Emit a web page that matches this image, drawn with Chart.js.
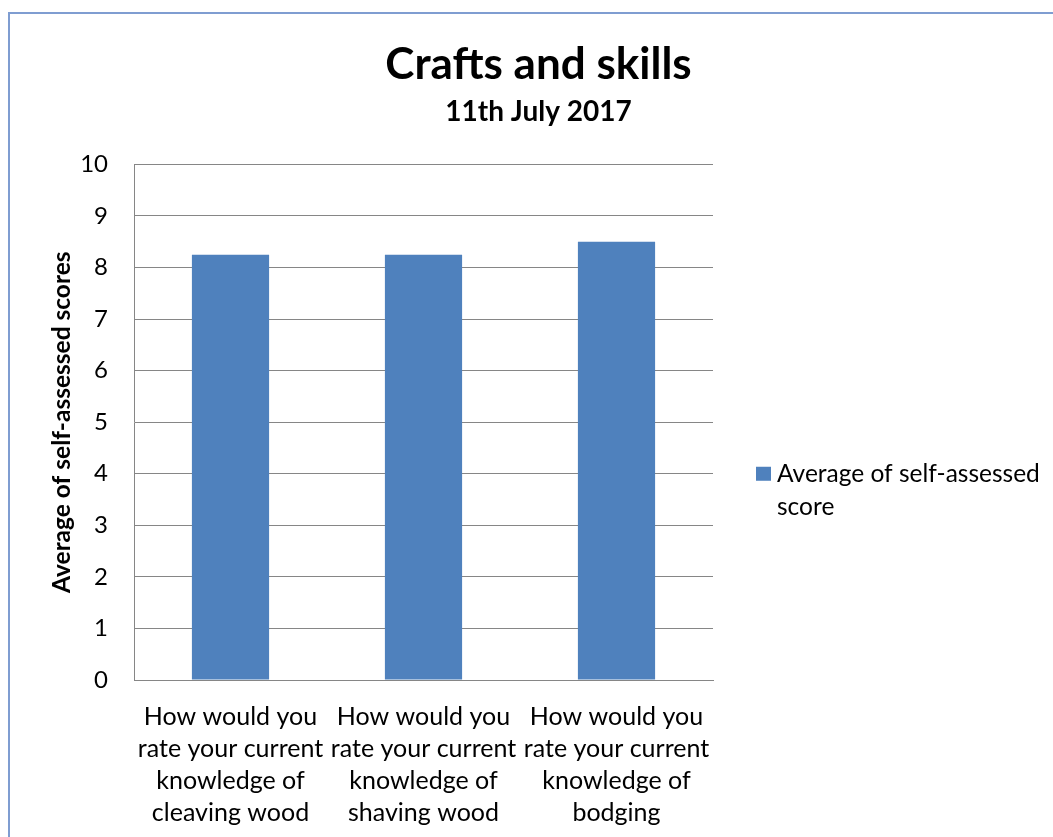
<!DOCTYPE html>
<html>
<head>
<meta charset="utf-8">
<script src="https://cdn.jsdelivr.net/npm/chart.js@4/dist/chart.umd.min.js"></script>
<style>
  html, body { margin: 0; padding: 0; background: #fff; overflow: hidden; width: 1053px; height: 837px; }
  #frame { position: absolute; left: 8px; top: 12px; width: 1200px; height: 1000px; border-left: 2px solid #7F9DD1; border-top: 2px solid #7F9DD1; }
  #wrap { position: absolute; left: 0; top: 0; width: 1053px; height: 837px; }
</style>
</head>
<body>
<div id="frame"></div>
<div id="wrap"><canvas id="c" width="1053" height="837"></canvas></div>
<script>
const categories = [
  ["How would you", "rate your current", "knowledge of", "cleaving wood"],
  ["How would you", "rate your current", "knowledge of", "shaving wood"],
  ["How would you", "rate your current", "knowledge of", "bodging"]
];
const seriesName = "Average of self-assessed score";
const scores = [8.25, 8.25, 8.5];
const yTicks = [0, 1, 2, 3, 4, 5, 6, 7, 8, 9, 10];
const titleText = "Crafts and skills";
const subtitleText = "11th July 2017";
const yAxisTitle = "Average of self-assessed scores";

const FONT = "Lato, 'Open Sans', sans-serif";
const barColor = "#4F81BD";

const legendPlugin = {
  id: 'sideLegend',
  afterDraw(chart) {
    const ctx = chart.ctx;
    const ds = chart.data.datasets[0];
    const x0 = chart.chartArea.right + 43;
    const y0 = chart.scales.y.getPixelForValue(4.0);
    ctx.save();
    ctx.fillStyle = ds.backgroundColor;
    ctx.fillRect(x0, y0 - 7, 15, 14);
    ctx.fillStyle = '#000';
    ctx.font = "24.5px " + FONT;
    ctx.textBaseline = 'middle';
    const words = ds.label.split(' ');
    const maxW = 275;
    const lines = [];
    let cur = '';
    for (const w of words) {
      const t = cur ? cur + ' ' + w : w;
      if (ctx.measureText(t).width > maxW && cur) { lines.push(cur); cur = w; } else { cur = t; }
    }
    if (cur) lines.push(cur);
    lines.forEach((l, i) => ctx.fillText(l, x0 + 21, y0 + i * 33));
    ctx.restore();
  }
};

new Chart(document.getElementById('c'), {
  type: 'bar',
  data: {
    labels: categories,
    datasets: [{
      label: seriesName,
      data: scores,
      backgroundColor: barColor,
      borderWidth: 0,
      barPercentage: 0.4,
      categoryPercentage: 1.0
    }]
  },
  options: {
    responsive: false,
    animation: false,
    devicePixelRatio: 1,
    layout: { padding: { left: 24, right: 0, top: 0, bottom: 0 } },
    plugins: {
      legend: { display: false },
      tooltip: { enabled: false },
      title: {
        display: true,
        text: titleText,
        color: '#000',
        font: { family: FONT, size: 44, weight: 'bold', lineHeight: 1.2 },
        padding: { top: 38, bottom: 0 }
      },
      subtitle: {
        display: true,
        text: subtitleText,
        color: '#000',
        font: { family: FONT, size: 28, weight: 'bold', lineHeight: 1.2 },
        padding: { top: 4, bottom: 36 }
      }
    },
    scales: {
      x: {
        grid: { display: false, drawTicks: false },
        border: { display: true, color: '#868686', width: 1 },
        ticks: {
          color: '#000',
          font: { family: FONT, size: 25, lineHeight: 1.28 },
          padding: 21,
          maxRotation: 0,
          autoSkip: false
        },
        afterFit(s) { s.height = 157; }
      },
      y: {
        min: 0,
        max: 10,
        afterBuildTicks(s) { s.ticks = yTicks.map(v => ({ value: v })); },
        grid: { color: '#868686', lineWidth: 1, drawTicks: false },
        border: { display: true, color: '#868686', width: 1 },
        ticks: {
          color: '#000',
          font: { family: FONT, size: 24 },
          padding: 26
        },
        title: {
          display: true,
          text: yAxisTitle,
          color: '#000',
          font: { family: FONT, size: 24.5, weight: 'bold', lineHeight: 1.2 },
          padding: { top: 23, bottom: 0 }
        },
        afterFit(s) { s.width = 110; }
      },
      y2: {
        position: 'right',
        display: true,
        grid: { display: false, drawTicks: false },
        border: { display: false },
        ticks: { display: false },
        afterFit(s) { s.width = 340; }
      }
    }
  },
  plugins: [legendPlugin]
});
</script>
</body>
</html>
